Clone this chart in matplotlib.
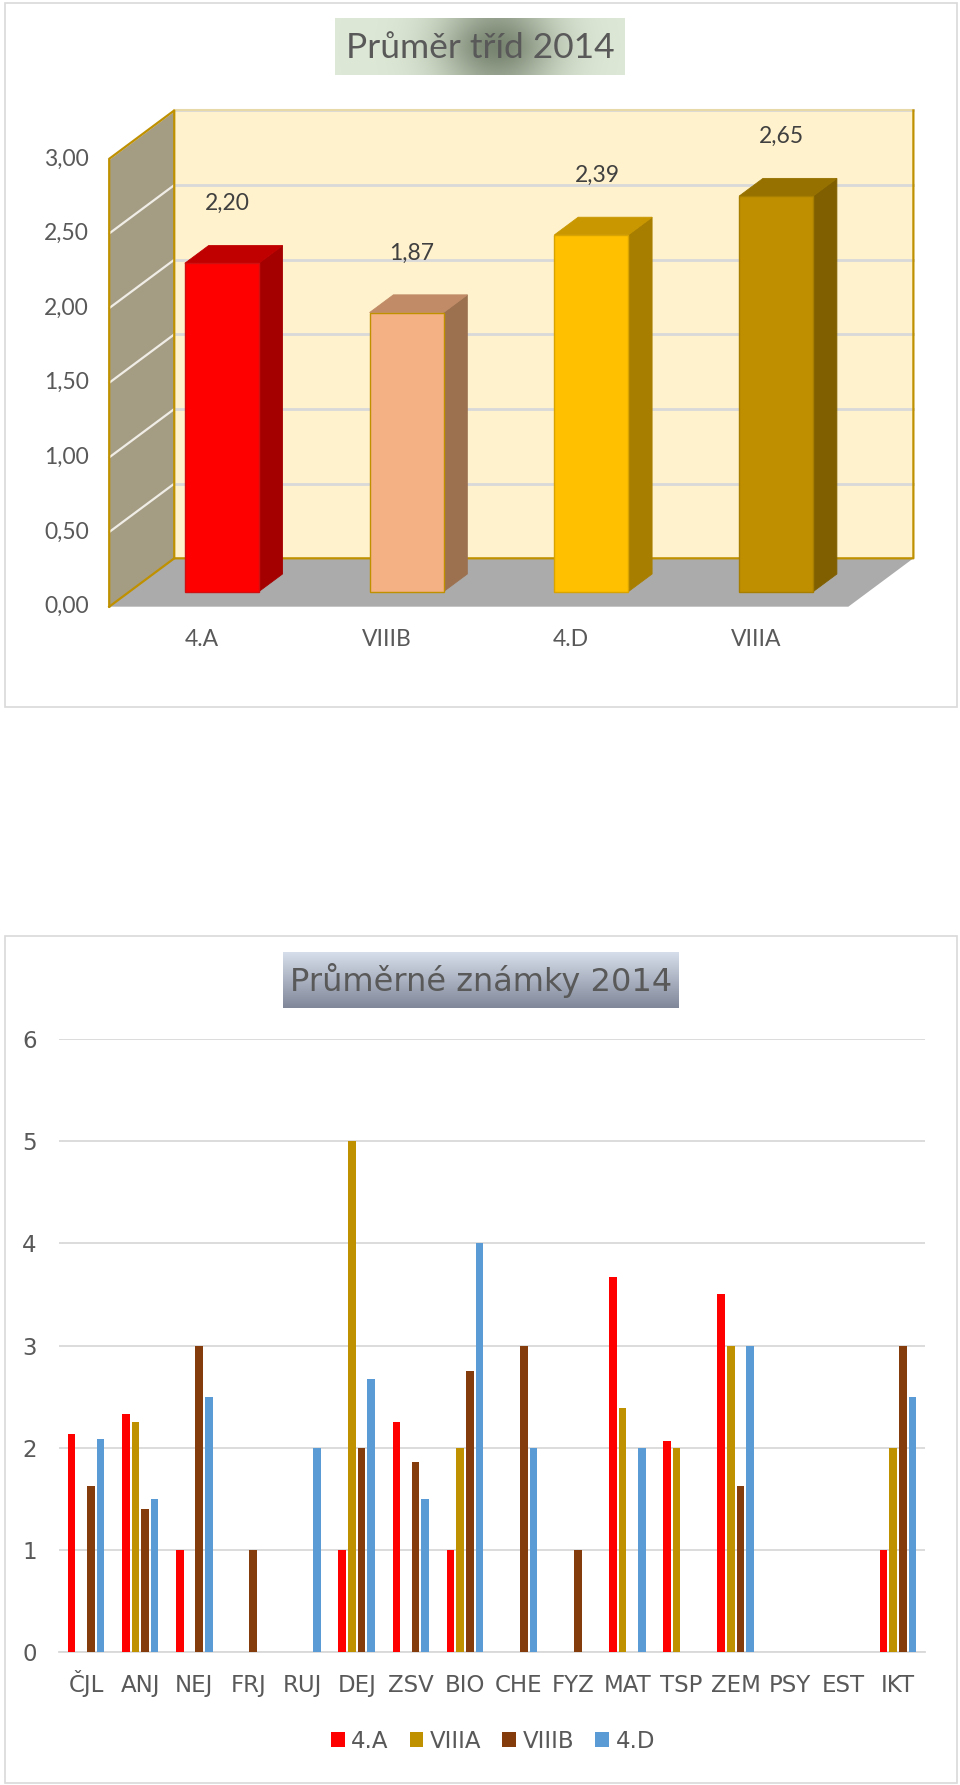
import numpy as np
import matplotlib
matplotlib.use("Agg")
import matplotlib.pyplot as plt
from matplotlib.patches import Polygon, Rectangle

# --- data ---
tridy = ["4.A", "VIIIB", "4.D", "VIIIA"]
prumery = [2.20, 1.87, 2.39, 2.65]
front_cols = ["#FF0000", "#F4B183", "#FFC000", "#BF8F00"]
side_cols = ["#A50000", "#9C7150", "#A87E00", "#7F5F00"]
top_cols = ["#C00000", "#C08B66", "#C99700", "#967100"]
edge_cols = ["#D01010", "#BF9000", "#D9A300", "#A87E00"]

predmety = ["ČJL", "ANJ", "NEJ", "FRJ", "RUJ", "DEJ", "ZSV", "BIO",
            "CHE", "FYZ", "MAT", "TSP", "ZEM", "PSY", "EST", "IKT"]
nan = np.nan
s_4A = [2.13, 2.33, 1, nan, nan, 1, 2.25, 1, nan, nan, 3.67, 2.07, 3.5, nan, nan, 1]
s_VIIIA = [nan, 2.25, nan, nan, nan, 5, nan, 2, nan, nan, 2.39, 2, 3, nan, nan, 2]
s_VIIIB = [1.62, 1.40, 3, 1, nan, 2, 1.86, 2.75, 3, 1, nan, nan, 1.62, nan, nan, 3]
s_4D = [2.08, 1.5, 2.5, nan, 2, 2.67, 1.5, 4, 2, nan, 2, nan, 3, nan, nan, 2.5]
serie = ["4.A", "VIIIA", "VIIIB", "4.D"]
barvy = ["#FF0000", "#BF9000", "#843C0C", "#5B9BD5"]

W, H = 960, 1785
fig = plt.figure(figsize=(W / 100, H / 100), dpi=100)


def fbox(x, y, w, h):
    # pixel box (from top-left) -> figure fraction
    return [x / W, 1 - (y + h) / H, w / W, h / H]


# frames of both charts
for (x, y, w, h) in [(5, 3, 952, 704), (5, 936, 952, 847)]:
    fig.patches.append(Rectangle((x / W, 1 - (y + h) / H), w / W, h / H,
                                 transform=fig.transFigure, fill=False,
                                 edgecolor="#D9D9D9", lw=1.2))

# ================= top chart (pseudo 3D) =================
ax1 = fig.add_axes(fbox(5, 3, 952, 704))
ax1.set_xlim(-0.564, 4.588)
ax1.set_ylim(-0.672, 4.044)
ax1.axis("off")

n = len(tridy)
ymax = 3.0
dxd, dyd = 0.352, 0.324   # depth vector
t0, t1 = 0.31, 0.676      # bar depth range
bw = 0.40
gold = "#BF9000"
lato = ["Lato", "DejaVu Sans"]

# walls and floor
ax1.add_patch(Polygon([(dxd, dyd), (n + dxd, dyd), (n + dxd, ymax + dyd), (dxd, ymax + dyd)],
                      facecolor="#FFF2CC", edgecolor="none", zorder=1))
ax1.add_patch(Polygon([(0, 0), (dxd, dyd), (dxd, ymax + dyd), (0, ymax)],
                      facecolor="#A59C84", edgecolor="none", zorder=1))
ax1.add_patch(Polygon([(0, 0), (n, 0), (n + dxd, dyd), (dxd, dyd)],
                      facecolor="#ABABAB", edgecolor="none", zorder=1))

ticks1 = np.arange(0, 3.01, 0.5)
for v in ticks1[1:]:
    ax1.plot([dxd, n + dxd], [v + dyd, v + dyd], color="#D9D9D9", lw=2, zorder=2)
    ax1.plot([0, dxd], [v, v + dyd], color="#EFEDE6", lw=1.6, zorder=2)

# wall outlines
ax1.plot([0, 0, dxd, dxd, n + dxd, n + dxd], [0, ymax, ymax + dyd, dyd, dyd, ymax + dyd],
         color=gold, lw=1.6, zorder=3)
ax1.plot([dxd, n + dxd], [ymax + dyd, ymax + dyd], color="#E8D9A8", lw=1.5, zorder=2)
ax1.plot([0, dxd], [0, dyd], color=gold, lw=1.6, zorder=3)

ddx, ddy = (t1 - t0) * dxd, (t1 - t0) * dyd
for i, v in enumerate(prumery):
    c = i + 0.5 + t0 * dxd
    x0, x1 = c - bw / 2, c + bw / 2
    y0 = t0 * dyd
    front = [(x0, y0), (x1, y0), (x1, y0 + v), (x0, y0 + v)]
    side = [(x1, y0), (x1 + ddx, y0 + ddy), (x1 + ddx, y0 + ddy + v), (x1, y0 + v)]
    top = [(x0, y0 + v), (x1, y0 + v), (x1 + ddx, y0 + v + ddy), (x0 + ddx, y0 + v + ddy)]
    ax1.add_patch(Polygon(side, facecolor=side_cols[i], edgecolor=side_cols[i], lw=0.6, zorder=4))
    ax1.add_patch(Polygon(top, facecolor=top_cols[i], edgecolor=top_cols[i], lw=0.6, zorder=4))
    ax1.add_patch(Polygon(front, facecolor=front_cols[i], edgecolor=edge_cols[i], lw=1.0, zorder=5))
    ax1.text(c + 0.03, v + 0.5, f"{v:.2f}".replace(".", ","), ha="center", va="center",
             fontsize=16.5, color="#404040", family=lato, zorder=6)

for v in ticks1:
    ax1.text(-0.11, v, f"{v:.2f}".replace(".", ","), ha="right", va="center",
             fontsize=16.5, color="#595959", family=lato)
for i, t in enumerate(tridy):
    ax1.text(i + 0.5, -0.22, t, ha="center", va="center",
             fontsize=16.5, color="#595959", family=lato)

# title box with green gradient
tax1 = fig.add_axes(fbox(335, 18, 290, 57))
gx, gy = np.meshgrid(np.linspace(0, 1, 300), np.linspace(0, 1, 60))
d = np.exp(-((gx - 0.56) / 0.2) ** 2) * (0.6 + 0.4 * np.exp(-((gy - 0.5) / 0.45) ** 2))
light = np.array([0.87, 0.91, 0.84])
dark = np.array([0.47, 0.52, 0.44])
img = light[None, None, :] * (1 - d[..., None]) + dark[None, None, :] * d[..., None]
tax1.imshow(img, aspect="auto", extent=[0, 1, 0, 1])
tax1.axis("off")
tax1.text(0.5, 0.48, "Průměr tříd 2014", ha="center", va="center", fontsize=25.5,
          color="#595959", family=lato, transform=tax1.transAxes)

# ================= bottom chart (grouped bars) =================
ax2 = fig.add_axes(fbox(59, 1039, 866, 613))
x = np.arange(len(predmety))
slot, w = 0.178, 0.14
for k, (vals, col, lab) in enumerate(zip([s_4A, s_VIIIA, s_VIIIB, s_4D], barvy, serie)):
    ax2.bar(x + (k - 1.5) * slot, vals, width=w, color=col, label=lab, zorder=3)

ax2.set_xlim(-0.5, len(predmety) - 0.5)
ax2.set_ylim(0, 6)
ax2.set_yticks(range(7))
ax2.yaxis.grid(True, color="#D9D9D9", lw=1.3, zorder=0)
for sp in ["top", "right", "left"]:
    ax2.spines[sp].set_visible(False)
ax2.spines["bottom"].set_color("#D9D9D9")
ax2.spines["bottom"].set_linewidth(1.3)
ax2.set_xticks(x)
ax2.set_xticklabels(predmety)
ax2.tick_params(axis="both", length=0, labelsize=16.5, labelcolor="#595959")
ax2.tick_params(axis="x", pad=29)
ax2.tick_params(axis="y", pad=16)
for lbl in ax2.get_xticklabels():
    lbl.set_va("baseline")

fig.legend(loc="center", bbox_to_anchor=(493 / W, 1 - 1741 / H), ncol=4, frameon=False,
           fontsize=16.5, handlelength=0.6, handleheight=0.6, handletextpad=0.3,
           columnspacing=0.9, labelcolor="#595959")

# title box with blue-gray vertical gradient
tax2 = fig.add_axes(fbox(283, 952, 396, 56))
gv = np.linspace(0, 1, 60)[:, None, None]
topc = np.array([0.84, 0.87, 0.92])
botc = np.array([0.50, 0.53, 0.60])
img2 = np.repeat(topc * (1 - gv) + botc * gv, 10, axis=1)
tax2.imshow(img2, aspect="auto", extent=[0, 1, 0, 1])
tax2.axis("off")
tax2.text(0.5, 0.5, "Průměrné známky 2014", ha="center", va="center", fontsize=23,
          color="#595959", transform=tax2.transAxes)

fig.savefig("out.png", dpi=100)
